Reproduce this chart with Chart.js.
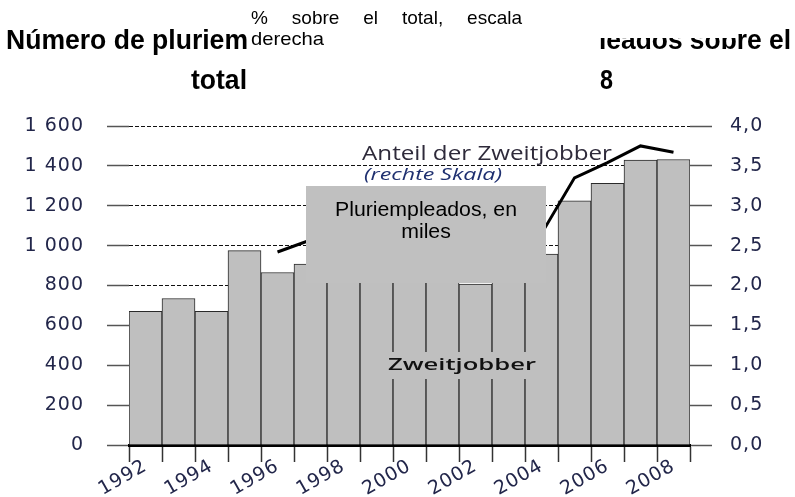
<!DOCTYPE html>
<html>
<head>
<meta charset="utf-8">
<script src="https://cdn.jsdelivr.net/npm/chart.js@4.4.1/dist/chart.umd.min.js"></script>
<style>
  html, body { margin: 0; padding: 0; background: #fff; }
  #wrap { position: relative; width: 795px; height: 497px; }
</style>
</head>
<body>
<div id="wrap"><canvas id="chart" width="795" height="497"></canvas></div>
<script>
// data
const years = ['1992', '1993', '1994', '1995', '1996', '1997', '1998', '1999', '2000',
               '2001', '2002', '2003', '2004', '2005', '2006', '2007', '2008'];
const shownYears = ['1992', '1994', '1996', '1998', '2000', '2002', '2004', '2006', '2008'];
// Zweitjobber in thousands (1998-2003 are hidden under the grey box, estimated)
const pluriempleados = [670, 735, 670, 975, 865, 907, 930, 945, 960, 950, 807, 930, 958, 1225, 1312, 1429, 1432];
// share of all employed, % (right scale)
const anteil = [null, null, null, null, 2.42, 2.57, 2.6, 2.62, 2.63, 2.63, 2.6, 2.62, 2.65, 3.35, 3.54, 3.75, 3.67];

const tickColor = '#22264a';
const tickFont = { family: 'DejaVu Sans', size: 19 };

// draws text squeezed/stretched to a given width
function fitText(ctx, text, x, y, w, font, color) {
  ctx.save();
  ctx.letterSpacing = '0px';
  ctx.font = font;
  ctx.fillStyle = color;
  ctx.textAlign = 'left';
  ctx.textBaseline = 'alphabetic';
  const nat = ctx.measureText(text).width;
  ctx.translate(x, y);
  ctx.scale(w / nat, 1);
  ctx.fillText(text, 0, 0);
  ctx.restore();
}

// justified line of words between x0 and x1
function justify(ctx, words, x0, x1, y, font, color) {
  ctx.save();
  ctx.letterSpacing = '0px';
  ctx.font = font;
  ctx.fillStyle = color;
  const widths = words.map(w => ctx.measureText(w).width);
  const gap = (x1 - x0 - widths.reduce((a, b) => a + b, 0)) / (words.length - 1);
  let x = x0;
  words.forEach((w, i) => {
    ctx.fillText(w, x, y);
    x += widths[i] + gap;
  });
  ctx.restore();
}

const overlay = {
  id: 'overlay',
  beforeDraw(chart) {
    chart.ctx.letterSpacing = '1px';
  },
  afterDraw(chart) {
    const ctx = chart.ctx;
    ctx.letterSpacing = '0px';

    // labels inside the plot
    fitText(ctx, 'Anteil der Zweitjobber', 362, 160, 250, '20px "Open Sans"', '#2e2a3a');
    fitText(ctx, '(rechte Skala)', 364, 180, 138, 'italic 17px "Open Sans"', '#1f3070');

    ctx.fillStyle = '#bfbfbf';
    ctx.fillRect(385, 352, 155, 27);
    fitText(ctx, 'Zweitjobber', 388, 370, 148, '600 17px "Open Sans"', '#111');

    // grey box pasted over the chart
    ctx.fillStyle = '#c0c0c0';
    ctx.fillRect(306, 186, 240, 97);
    fitText(ctx, 'Pluriempleados, en', 335, 216, 182, '20px "Liberation Sans"', '#000');
    ctx.save();
    ctx.font = '20px "Liberation Sans"';
    const s = 182 / ctx.measureText('Pluriempleados, en').width;
    const mw = ctx.measureText('miles').width * s;
    ctx.restore();
    fitText(ctx, 'miles', 426 - mw / 2, 238, mw, '20px "Liberation Sans"', '#000');

    // title fragments
    const tf = 'bold 27px "Liberation Sans"';
    fitText(ctx, 'Número de pluriem', 6, 49, 242, tf, '#000');
    fitText(ctx, 'leados sobre el', 599, 49, 192, tf, '#000');
    ctx.fillStyle = '#fff';
    ctx.fillRect(560, 0, 178, 38);
    fitText(ctx, 'total', 191, 89, 56, tf, '#000');
    fitText(ctx, '8', 600, 89, 13, tf, '#000');

    justify(ctx, ['%', 'sobre', 'el', 'total,', 'escala'], 251, 522, 24, '19px "Liberation Sans"', '#000');
    fitText(ctx, 'derecha', 251, 45, 73, '19px "Liberation Sans"', '#000');
  }
};

new Chart(document.getElementById('chart'), {
  type: 'bar',
  data: {
    labels: years,
    datasets: [
      {
        type: 'line',
        label: 'Anteil der Zweitjobber',
        data: anteil,
        yAxisID: 'y1',
        borderColor: '#000',
        borderWidth: 3,
        pointRadius: 0,
        tension: 0,
        fill: false,
        order: 1
      },
      {
        type: 'bar',
        label: 'Zweitjobber',
        data: pluriempleados,
        yAxisID: 'y',
        backgroundColor: '#bfbfbf',
        borderColor: '#2a2a2a',
        borderWidth: 1,
        barPercentage: 1,
        categoryPercentage: 1,
        order: 2
      }
    ]
  },
  options: {
    responsive: false,
    animation: false,
    layout: { padding: { top: 126, left: 0, right: 0, bottom: 0 } },
    plugins: {
      legend: { display: false },
      tooltip: { enabled: false }
    },
    scales: {
      x: {
        z: 1,
        offset: true,
        grid: { offset: true, drawOnChartArea: false, drawTicks: true, tickLength: 17, tickColor: '#333', tickWidth: 1.5 },
        border: { display: true, color: '#000', width: 3 },
        ticks: {
          autoSkip: false,
          maxRotation: 30,
          minRotation: 30,
          padding: -7,
          color: tickColor,
          font: { family: 'DejaVu Sans', size: 19 },
          callback: (v, i) => shownYears.includes(years[i]) ? years[i] : ''
        },
        afterFit: s => { s.height = 52; }
      },
      y: {
        position: 'left',
        min: 0,
        max: 1600,
        grid: { color: '#111', lineWidth: 1, drawTicks: true, tickLength: 22, tickColor: '#555', tickWidth: 1.5, tickBorderDash: [] },
        border: { display: false, dash: [4, 2] },
        ticks: {
          stepSize: 200,
          padding: 23,
          color: tickColor,
          font: tickFont,
          callback: v => String(v).replace(/\B(?=(\d{3})+(?!\d))/g, ' ')
        },
        afterFit: s => { s.width = 129; }
      },
      y1: {
        position: 'right',
        min: 0,
        max: 4,
        grid: { drawOnChartArea: false, drawTicks: true, tickLength: 22, tickColor: '#555', tickWidth: 1.5 },
        border: { display: false },
        ticks: {
          stepSize: 0.5,
          padding: 18,
          color: tickColor,
          font: tickFont,
          callback: v => v.toFixed(1).replace('.', ',')
        },
        afterFit: s => { s.width = 105; }
      }
    }
  },
  plugins: [overlay]
});
</script>
</body>
</html>
